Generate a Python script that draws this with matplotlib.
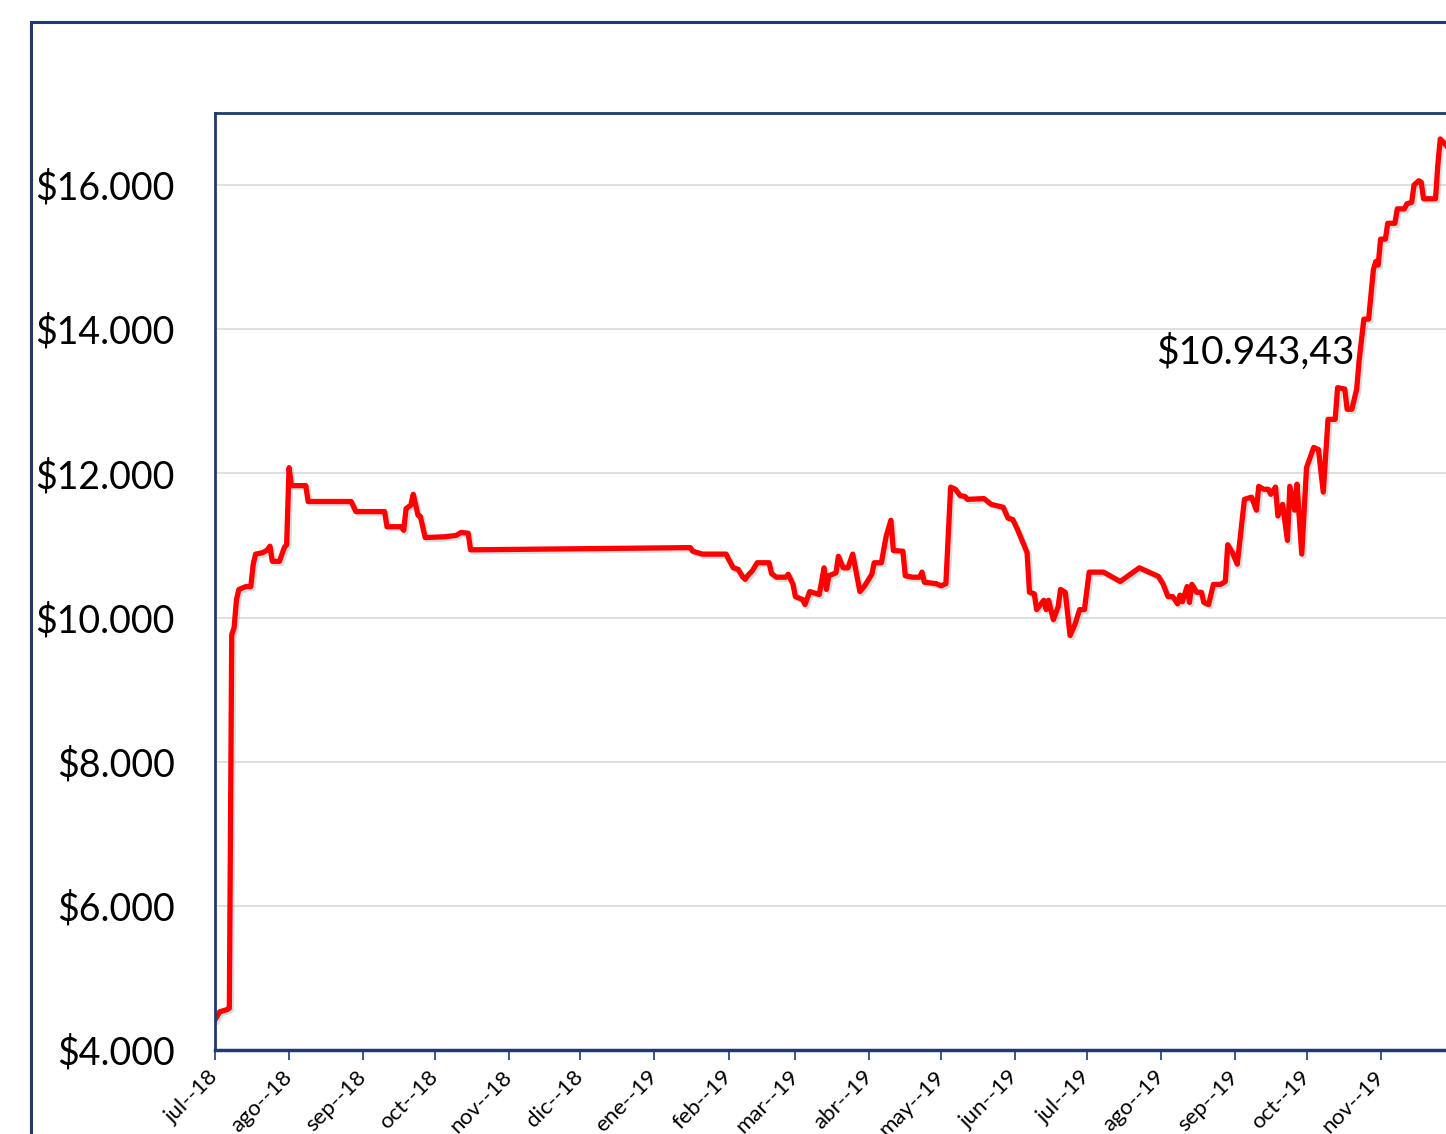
import matplotlib.pyplot as plt
import matplotlib.patheffects as pe
from matplotlib.patches import Rectangle
import pandas as pd

# price series: days after 2018-07-01 and value in $
start_date = "2018-07-01"
day_offsets = [
    0, 2, 5, 6, 7, 8, 9, 10, 13, 15, 16, 17, 20, 22, 23, 24, 27, 29, 30, 31,
    32, 38, 39, 57, 59, 71, 72, 78, 79, 80, 82, 83, 85, 86, 88, 96, 101, 103,
    106, 107, 109, 198, 199, 200, 204, 214, 215, 217, 219, 221, 222, 223, 225,
    227, 232, 233, 235, 239, 240, 242, 243, 246, 247, 249, 253, 255, 256, 257,
    260, 261, 263, 265, 267, 270, 272, 275, 276, 279, 281, 283, 284, 288, 289,
    292, 295, 296, 297, 302, 304, 306, 308, 310, 312, 314, 315, 322, 325, 330,
    332, 334, 336, 338, 340, 341, 343, 344, 347, 348, 349, 351, 353, 354, 356,
    358, 360, 362, 364, 366, 372, 379, 387, 395, 397, 399, 401, 403, 404, 405,
    407, 408, 409, 411, 413, 414, 416, 418, 421, 423, 424, 426, 428, 431, 434,
    436, 437, 439, 441, 442, 444, 445, 447, 449, 450, 452, 453, 455, 457, 460,
    462, 464, 466, 469, 470, 473, 474, 476, 478, 479, 481, 483, 485, 486, 487,
    488, 490, 491, 494, 495, 498, 499, 501, 502, 504, 505, 506, 511, 512, 513,
    516,
]
values = [
    4420, 4530, 4560, 4580, 9760, 9860, 10250, 10390, 10430, 10430, 10740,
    10880, 10900, 10940, 10990, 10780, 10780, 10970, 11010, 12080,
    11830, 11830, 11610, 11610, 11470, 11470, 11260, 11260, 11210, 11510,
    11560, 11710, 11420, 11400, 11110, 11120, 11140, 11180,
    11170, 10940, 10940, 10970, 10970, 10920, 10880, 10880, 10810, 10690,
    10670, 10560, 10530, 10580, 10650,
    10760, 10760, 10610, 10560, 10560, 10600, 10460, 10290, 10250, 10180,
    10360, 10320, 10690, 10390, 10580,
    10620, 10850, 10690, 10690, 10880, 10360, 10440, 10600, 10760, 10760,
    11130, 11350, 10930, 10920, 10580,
    10560, 10560, 10630, 10490, 10470, 10440, 10470, 11810, 11780, 11690,
    11680, 11640, 11650, 11570, 11530,
    11380, 11360, 11220, 11060, 10900, 10350, 10330, 10110, 10240, 10110,
    10240, 9970, 10150, 10390, 10350,
    9750, 9900, 10110, 10110, 10630, 10630, 10500, 10690, 10570, 10460,
    10290, 10290, 10190, 10310, 10220,
    10430, 10210, 10460, 10350, 10350, 10210, 10180, 10460, 10460, 10500,
    11010, 10900, 10740, 11640, 11670,
    11490, 11820, 11780, 11780, 11710, 11810, 11410, 11570, 11070, 11820,
    11490, 11850, 10880, 12080, 12360,
    12330, 11740, 12750, 12750, 13190, 13170, 12890, 12890, 13170, 13560,
    14140, 14140, 14830, 14940, 14890,
    15250, 15250, 15470, 15470, 15670, 15670, 15740, 15760, 16000, 16060,
    16040, 15810, 15810, 16290, 16640,
    16530,
]

month_labels = [
    "jul--18", "ago--18", "sep--18", "oct--18", "nov--18", "dic--18",
    "ene--19", "feb--19", "mar--19", "abr--19", "may--19", "jun--19",
    "jul--19", "ago--19", "sep--19", "oct--19", "nov--19",
]
y_ticks = [4000, 6000, 8000, 10000, 12000, 14000, 16000]
annotation_text = "$10.943,43"

frame_color = "#1F3A70"
font = "Lato"

dates = pd.Timestamp(start_date) + pd.to_timedelta(day_offsets, unit="D")
month_starts = pd.date_range(start_date, periods=len(month_labels), freq="MS")

W, H = 1446, 1134
fig = plt.figure(figsize=(W / 100, H / 100), dpi=100)

# outer chart frame, cut by the picture edge on the right and bottom
fig.patches.append(Rectangle((31 / W, -0.05), 1.2, 1 - 22 / H + 0.05,
                             transform=fig.transFigure, fill=False,
                             edgecolor=frame_color, linewidth=2.2))

left, right, top, bottom = 215, 1500, 113, 1050
ax = fig.add_axes([left / W, 1 - bottom / H, (right - left) / W, (bottom - top) / H])

ax.plot(dates, values, color="#FF0000", linewidth=3.8, solid_joinstyle="round",
        path_effects=[pe.SimpleLineShadow(offset=(1.5, -1.5), shadow_color="#999999", alpha=0.35),
                      pe.Normal()])

ax.set_ylim(4000, 17000)
ax.set_xlim(pd.Timestamp(start_date), pd.Timestamp(start_date) + pd.Timedelta(days=538))
ax.set_yticks(y_ticks)
ax.set_yticklabels([f"${v // 1000}.000" for v in y_ticks], fontsize=27, family=font)
ax.set_xticks(month_starts)
ax.set_xticklabels(month_labels, rotation=45, ha="right", va="center",
                   rotation_mode="anchor", fontsize=16, family=font)
ax.tick_params(axis="y", length=0, pad=29)
ax.tick_params(axis="x", length=7, width=1.2, color=frame_color, pad=10)
ax.grid(axis="y", color="#D9D9D9", linewidth=1.2)
ax.set_axisbelow(True)

for side in ["left", "top"]:
    ax.spines[side].set_color(frame_color)
    ax.spines[side].set_linewidth(2)
ax.spines["bottom"].set_color(frame_color)
ax.spines["bottom"].set_linewidth(2.5)
ax.spines["right"].set_visible(False)

ax.text(pd.Timestamp(start_date) + pd.Timedelta(days=394), 13680, annotation_text,
        fontsize=28, family=font, ha="left", va="center")

fig.savefig("out.png", dpi=100)
